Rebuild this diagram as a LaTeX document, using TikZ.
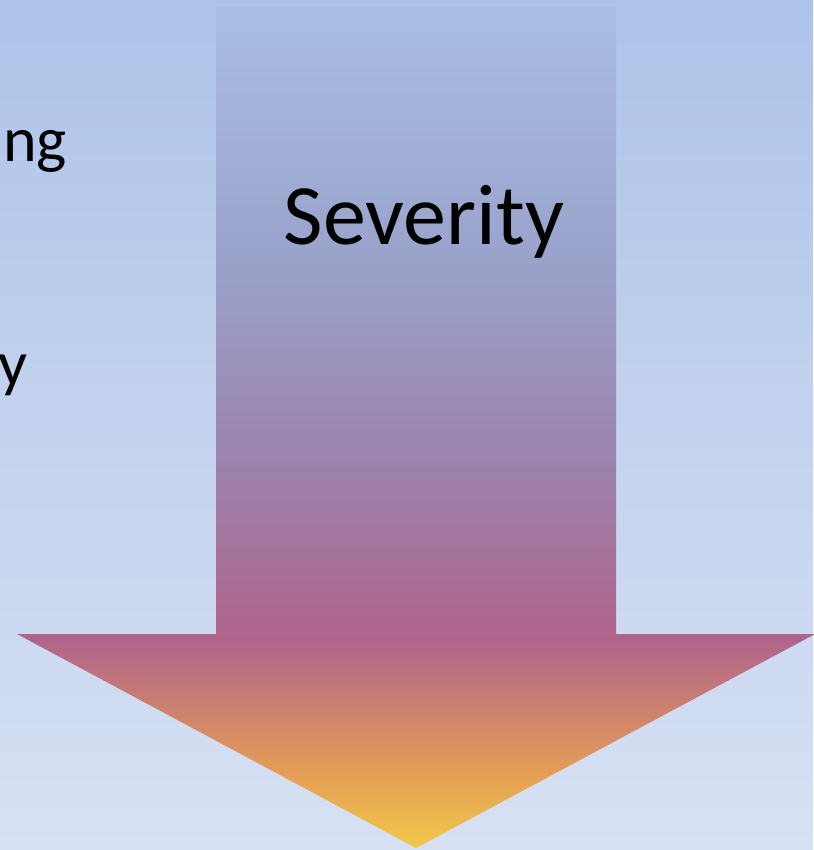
\documentclass[tikz,border=0pt]{standalone}
\usepackage{fontspec}
\setmainfont{Carlito}
\definecolor{bgtop}{HTML}{AEC3E9}
\definecolor{bgbot}{HTML}{D7E1F3}
\definecolor{ac1}{HTML}{F2C84A}
\definecolor{ac2}{HTML}{E39A58}
\definecolor{ac3}{HTML}{B0648C}
\definecolor{ac4}{HTML}{9B82AC}
\definecolor{ac5}{HTML}{9AA3CB}
\definecolor{ac6}{HTML}{AABEE4}
\pgfdeclareverticalshading{arrowshade}{100bp}{%
  color(0bp)=(ac1);
  color(25bp)=(ac1);
  color(29.9bp)=(ac2);
  color(37.4bp)=(ac3);
  color(47.5bp)=(ac4);
  color(60.3bp)=(ac5);
  color(75bp)=(ac6);
  color(100bp)=(ac6)}
\tikzset{
  sidetext/.style={font=\fontsize{64}{70}\selectfont, inner sep=0pt, anchor=base east},
  bigtext/.style={font=\fontsize{86}{92}\selectfont, inner sep=0pt, anchor=base}
}
\begin{document}
\begin{tikzpicture}[x=1pt,y=-1pt]
\useasboundingbox (0,0) rectangle (813,850);
\shade[top color=bgtop, bottom color=bgbot] (0,0) rectangle (813,850);
\shade[shading=arrowshade] (216,7) -- (616,7) -- (616,634) -- (815,634) -- (416,848) -- (17,634) -- (216,634) -- cycle;
\node[bigtext] (sev) at (424,244) {Severity};
\node[sidetext] (t1) at (67,162) {ng};
\node[sidetext] (t2) at (28,385) {y};
\end{tikzpicture}
\end{document}
